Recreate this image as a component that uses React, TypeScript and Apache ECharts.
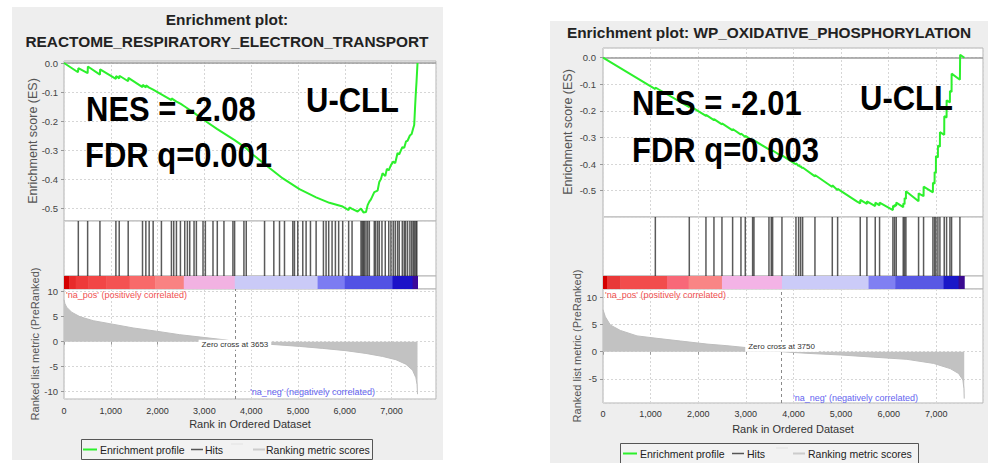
import React, { useEffect, useRef } from "react";
import * as echarts from "echarts";

// ---------- data ----------
const xMaxLeft = 7950;
const xMaxRight = 7980;
const zeroCrossLeft = 3653;
const zeroCrossRight = 3750;

const titleLeft1 = "Enrichment plot:";
const titleLeft2 = "REACTOME_RESPIRATORY_ELECTRON_TRANSPORT";
const titleRight = "Enrichment plot: WP_OXIDATIVE_PHOSPHORYLATION";
const nesLeft = "NES = -2.08";
const fdrLeft = "FDR q=0.001";
const nesRight = "NES = -2.01";
const fdrRight = "FDR q=0.003";
const groupLabel = "U-CLL";

const hitsLeft = [
  306, 505, 768, 1109, 1180, 1372, 1678, 1749, 1820, 1905, 2082, 2296, 2345, 2403, 2488, 2580,
  2637, 2687, 2779, 2829, 2971, 3021, 3184, 3276, 3418, 3610, 3646, 3845, 3895, 4286, 4484,
  4606, 4712, 4890, 4925, 4996, 5103, 5174, 5267, 5388, 5544, 5601, 5657, 5729, 5800, 5870,
  5956, 6083, 6156, 6347, 6372, 6397, 6420, 6454, 6489, 6525, 6631, 6660, 6702, 6738, 6795,
  6866, 6940, 6987, 7036, 7079, 7128, 7164, 7230, 7271, 7300, 7342, 7392, 7430, 7463, 7490,
  7520, 7540,
];

const hitsRight = [
  1099, 1812, 2162, 2330, 2498, 2722, 2897, 2988, 3142, 3170, 3485, 3534, 3562, 3758, 4052,
  4108, 4150, 4192, 4451, 4815, 4927, 5402, 5542, 5717, 5808, 6088, 6123, 6158, 6305, 6333,
  6361, 6627, 6732, 6928, 6963, 6991, 7033, 7075, 7166, 7215, 7285, 7320, 7495,
];

const esLeft = [
  [0, 0], [300, -0.032], [306, -0.018], [505, -0.035], [510, -0.012], [768, -0.04], [772, -0.022],
  [1109, -0.055], [1113, -0.045], [1180, -0.053], [1184, -0.044], [1372, -0.063], [1376, -0.051],
  [1678, -0.083], [1682, -0.075], [1749, -0.084], [1753, -0.077], [1820, -0.085], [1905, -0.092],
  [2082, -0.108], [2296, -0.128], [2300, -0.122], [2403, -0.133], [2488, -0.14], [2580, -0.15],
  [2779, -0.172], [3021, -0.2], [3276, -0.228], [3646, -0.266], [3895, -0.294], [4037, -0.316],
  [4392, -0.362], [4677, -0.398], [5032, -0.435], [5388, -0.463], [5672, -0.482], [5956, -0.495],
  [6083, -0.507], [6100, -0.498], [6156, -0.503], [6275, -0.512], [6347, -0.502], [6400, -0.515],
  [6454, -0.514], [6489, -0.49], [6525, -0.478], [6560, -0.47], [6631, -0.445], [6702, -0.44],
  [6738, -0.41], [6773, -0.4], [6808, -0.38], [6866, -0.39], [6900, -0.365], [6940, -0.37],
  [6987, -0.352], [7036, -0.34], [7079, -0.345], [7128, -0.31], [7164, -0.315], [7230, -0.29],
  [7271, -0.292], [7310, -0.27], [7342, -0.268], [7392, -0.25], [7430, -0.245], [7463, -0.225],
  [7484, -0.214], [7505, -0.145], [7520, -0.1], [7534, -0.064], [7555, 0],
];

const esRight = [
  [0, 0], [1099, -0.118], [1100, -0.112], [1812, -0.186], [1813, -0.18], [2162, -0.219],
  [2163, -0.215], [2330, -0.235], [2331, -0.231], [2498, -0.251], [2499, -0.247], [2722, -0.273],
  [2723, -0.268], [2897, -0.289], [2898, -0.285], [2988, -0.298], [2989, -0.294], [3142, -0.312],
  [3143, -0.308], [3170, -0.315], [3171, -0.311], [3485, -0.345], [3486, -0.341], [3534, -0.349],
  [3535, -0.346], [3562, -0.352], [3563, -0.349], [3758, -0.371], [3759, -0.367], [4052, -0.401],
  [4053, -0.397], [4108, -0.407], [4109, -0.403], [4150, -0.411], [4151, -0.408], [4192, -0.416],
  [4193, -0.413], [4451, -0.446], [4452, -0.441], [4815, -0.486], [4816, -0.48], [4927, -0.498],
  [4928, -0.493], [5329, -0.54], [5402, -0.548], [5403, -0.535], [5542, -0.55], [5543, -0.54],
  [5717, -0.558], [5718, -0.545], [5808, -0.555], [5809, -0.545], [6088, -0.573], [6089, -0.557],
  [6123, -0.561], [6124, -0.553], [6158, -0.557], [6159, -0.545], [6305, -0.562], [6306, -0.548],
  [6333, -0.551], [6334, -0.528], [6361, -0.531], [6362, -0.502], [6627, -0.54], [6628, -0.51],
  [6732, -0.521], [6733, -0.485], [6928, -0.506], [6929, -0.47], [6963, -0.474], [6964, -0.43],
  [6991, -0.433], [6992, -0.37], [7033, -0.375], [7034, -0.33], [7075, -0.335], [7076, -0.28],
  [7166, -0.29], [7167, -0.22], [7215, -0.225], [7216, -0.16], [7285, -0.168], [7286, -0.125],
  [7320, -0.129], [7321, -0.06], [7495, -0.083], [7500, 0.011], [7590, 0.0],
];

const metricLeft = [
  [0, 8.4], [20, 7.6], [57, 6.9], [163, 5.9], [341, 5.0], [625, 4.2], [980, 3.6], [1478, 2.75],
  [1976, 2.1], [2473, 1.4], [2971, 0.87], [3468, 0.34], [3653, 0], [4037, -0.34], [4534, -0.6],
  [5032, -0.94], [5529, -1.34], [6027, -1.8], [6453, -2.35], [6809, -2.95], [7093, -3.6],
  [7306, -4.5], [7449, -5.7], [7520, -7.2], [7545, -8.6], [7555, -10.5],
];

const metricRight = [
  [0, 7.7], [49, 6.4], [154, 4.9], [364, 3.9], [714, 2.9], [1134, 2.45], [1624, 1.96],
  [2183, 1.4], [2603, 1.1], [3023, 0.74], [3513, 0.3], [3750, 0], [4283, -0.3], [4983, -0.6],
  [5682, -1.0], [6382, -1.4], [6942, -2.15], [7292, -3.1], [7467, -4.0], [7558, -5.2],
  [7580, -6.8], [7586, -8.6],
];

const heatLeft: [number, number, string][] = [
  [0, 110, "#d40000"], [110, 250, "#e82a2a"], [250, 520, "#ee3a3a"], [520, 900, "#f24646"],
  [900, 1400, "#f45252"], [1400, 1950, "#f86a6a"], [1950, 2560, "#f98282"],
  [2560, 3650, "#f2b2e2"], [3650, 5420, "#cacaf7"], [5420, 6000, "#7c7cf2"],
  [6000, 7020, "#5252e4"], [7020, 7450, "#1c12c8"], [7450, 7555, "#3a0a9a"],
];

const heatRight: [number, number, string][] = [
  [0, 84, "#d40000"], [84, 364, "#e83838"], [364, 1344, "#f24c4c"], [1344, 1798, "#f86878"],
  [1798, 2498, "#f98585"], [2498, 3758, "#f3b3e6"], [3758, 5577, "#cbcbf8"],
  [5577, 6137, "#8080f2"], [6137, 7152, "#5858e4"], [7152, 7467, "#1a18c8"],
  [7467, 7586, "#3a0a90"],
];

// ---------- styling ----------
const FONT = "'Liberation Sans', Arial, Helvetica, sans-serif";
const GREEN = "#2cf02c";
const PANEL = "#eeeeee";

function fmtThousands(v: number) {
  return Math.round(v).toLocaleString("en-US");
}

function App() {
  const ref = useRef<HTMLDivElement>(null);

  useEffect(() => {
    if (!ref.current) return;
    const chart = echarts.init(ref.current, undefined, { renderer: "svg" });

    const gridDefs = [
      { left: 64, top: 61, width: 372, height: 160 },
      { left: 64, top: 221, width: 372, height: 55 },
      { left: 64, top: 276, width: 372, height: 13 },
      { left: 64, top: 289, width: 372, height: 110 },
      { left: 603, top: 48, width: 380, height: 169 },
      { left: 603, top: 217, width: 380, height: 59 },
      { left: 603, top: 276, width: 380, height: 13 },
      { left: 603, top: 289, width: 380, height: 114 },
    ];
    const grid = gridDefs.map((g) => ({
      ...g,
      show: true,
      backgroundColor: "#ffffff",
      borderColor: "#b4b4b4",
      borderWidth: 1,
      containLabel: false,
    }));

    const splitDotted = { type: [2, 2] as any, color: "#d6d6d6", width: 1 };

    const xAxis = gridDefs.map((_, i) => {
      const isBottom = i === 3 || i === 7;
      return {
        type: "value",
        gridIndex: i,
        min: 0,
        max: i < 4 ? xMaxLeft : xMaxRight,
        interval: 1000,
        axisLine: { show: false },
        axisTick: { show: isBottom, length: 3, lineStyle: { color: "#999" } },
        axisLabel: {
          show: isBottom,
          showMaxLabel: false,
          margin: i === 3 ? 7 : 6,
          fontSize: 9,
          fontFamily: FONT,
          color: "#333",
          formatter: (v: number) => fmtThousands(v),
        },
        splitLine: { show: i % 4 !== 2, lineStyle: splitDotted },
      };
    });

    const esFmt = (v: number) =>
      Math.abs(v * 10 - Math.round(v * 10)) < 1e-6 ? (Math.round(v * 10) / 10).toFixed(1) : "";
    const rankFmt = (v: number) =>
      Math.abs(v / 5 - Math.round(v / 5)) < 1e-6 ? String(Math.round(v)) : "";

    const yLabel = (fmt: (v: number) => string, margin: number) => ({
      showMinLabel: false,
      showMaxLabel: false,
      fontSize: 9.5,
      fontFamily: FONT,
      color: "#444",
      margin,
      formatter: fmt,
    });

    const yAxis = [
      {
        type: "value", gridIndex: 0, min: -0.5447, max: 0.0069, splitNumber: 5,
        axisLine: { show: false }, axisTick: { show: true, length: 3, lineStyle: { color: "#999" } },
        axisLabel: yLabel(esFmt, 6), splitLine: { show: true, lineStyle: splitDotted },
      },
      { type: "value", gridIndex: 1, min: 0, max: 1, show: false, splitLine: { show: false } },
      { type: "value", gridIndex: 2, min: 0, max: 1, show: false, splitLine: { show: false } },
      {
        type: "value", gridIndex: 3, min: -11.46, max: 10.54, splitNumber: 4,
        axisLine: { show: false }, axisTick: { show: true, length: 3, lineStyle: { color: "#999" } },
        axisLabel: yLabel(rankFmt, 6), splitLine: { show: true, lineStyle: splitDotted },
      },
      {
        type: "value", gridIndex: 4, min: -0.599, max: 0.0365, splitNumber: 5,
        axisLine: { show: false }, axisTick: { show: true, length: 3, lineStyle: { color: "#999" } },
        axisLabel: yLabel(esFmt, 7), splitLine: { show: true, lineStyle: splitDotted },
      },
      { type: "value", gridIndex: 5, min: 0, max: 1, show: false, splitLine: { show: false } },
      { type: "value", gridIndex: 6, min: 0, max: 1, show: false, splitLine: { show: false } },
      {
        type: "value", gridIndex: 7, min: -9.41, max: 11.5, splitNumber: 4,
        axisLine: { show: false }, axisTick: { show: true, length: 3, lineStyle: { color: "#999" } },
        axisLabel: yLabel(rankFmt, 6), splitLine: { show: true, lineStyle: splitDotted },
      },
    ];

    const esSeries = (data: number[][], idx: number) => ({
      type: "line",
      xAxisIndex: idx,
      yAxisIndex: idx,
      data,
      showSymbol: false,
      symbol: "none",
      lineStyle: { color: GREEN, width: 2 },
      z: 5,
      silent: true,
      markLine: {
        silent: true,
        symbol: ["none", "none"],
        label: { show: false },
        lineStyle: { color: "#9a9a9a", width: 1.5, type: "solid" },
        data: [{ yAxis: 0 }],
      },
    });

    const hitsSeries = (hits: number[], idx: number) => ({
      type: "custom",
      xAxisIndex: idx,
      yAxisIndex: idx,
      data: hits.map((r) => [r, 1]),
      encode: { x: 0, y: 1 },
      silent: true,
      renderItem: (_p: any, api: any) => {
        const x = api.coord([api.value(0), 0])[0];
        const yb = api.coord([0, 0])[1];
        const yt = api.coord([0, 1])[1];
        return {
          type: "line",
          shape: { x1: x, y1: yt, x2: x, y2: yb },
          style: { stroke: "#1a1a1a", lineWidth: 1.5, opacity: 0.72 },
        };
      },
    });

    const heatSeries = (segs: [number, number, string][], idx: number) => ({
      type: "custom",
      xAxisIndex: idx,
      yAxisIndex: idx,
      data: segs.map((s) => [s[0], s[1], 0.5]),
      encode: { x: [0, 1], y: 2 },
      silent: true,
      renderItem: (p: any, api: any) => {
        const a = api.coord([api.value(0), 1]);
        const b = api.coord([api.value(1), 0]);
        return {
          type: "rect",
          shape: { x: a[0], y: a[1], width: b[0] - a[0] + 0.5, height: b[1] - a[1] },
          style: { fill: segs[p.dataIndex][2] },
        };
      },
    });

    const metricSeries = (data: number[][], idx: number, zc: number, labelOffset: number) => ({
      type: "line",
      xAxisIndex: idx,
      yAxisIndex: idx,
      data,
      showSymbol: false,
      symbol: "none",
      silent: true,
      lineStyle: { color: "#bdbdbd", width: 1 },
      areaStyle: { color: "#c2c2c2", opacity: 1 },
      markLine: {
        silent: true,
        symbol: ["none", "none"],
        label: { show: false },
        lineStyle: { color: "#8a8a8a", width: 1, type: [3, 3] as any },
        data: [{ xAxis: zc }],
      },
      markPoint: {
        silent: true,
        data: [
          {
            coord: [zc, 0],
            symbol: "circle",
            symbolSize: 0,
            label: {
              show: true,
              position: "inside",
              offset: [0, labelOffset],
              formatter: "Zero cross at " + zc,
              fontSize: 8,
              fontFamily: FONT,
              color: "#333",
              backgroundColor: "#ffffff",
              padding: [1, 3],
            },
          },
        ],
      },
    });

    const series = [
      esSeries(esLeft, 0),
      hitsSeries(hitsLeft, 1),
      heatSeries(heatLeft, 2),
      metricSeries(metricLeft, 3, zeroCrossLeft, 3),
      esSeries(esRight, 4),
      hitsSeries(hitsRight, 5),
      heatSeries(heatRight, 6),
      metricSeries(metricRight, 7, zeroCrossRight, -5),
    ];

    const txt = (
      text: string, x: number, y: number, size: number,
      opts: { weight?: string; color?: string; align?: string; rot?: number; z?: number; sy?: number; sx?: number } = {}
    ) => ({
      type: "text",
      x,
      y,
      rotation: opts.rot || 0,
      scaleX: opts.sx ?? 1,
      scaleY: opts.sy ?? 1,
      z: opts.z ?? 100,
      silent: true,
      style: {
        text,
        fill: opts.color || "#222",
        fontSize: size,
        fontWeight: opts.weight || "normal",
        fontFamily: FONT,
        align: opts.align || "left",
        textAlign: opts.align || "left",
        verticalAlign: "middle",
        textVerticalAlign: "middle",
      },
    });

    const big = { weight: "bold", color: "#000", sy: 1.12 };

    const hline = (x1: number, x2: number, y: number, color: string, w: number) => ({
      type: "line",
      z: 100,
      silent: true,
      shape: { x1, y1: y, x2, y2: y },
      style: { stroke: color, lineWidth: w },
    });

    const graphic = [
      // panel backgrounds
      { type: "rect", z: -100, silent: true, shape: { x: 12, y: 7, width: 431, height: 453 }, style: { fill: PANEL } },
      { type: "rect", z: -100, silent: true, shape: { x: 550, y: 21, width: 438, height: 450 }, style: { fill: PANEL } },
      // titles
      txt(titleLeft1, 227, 19, 15.4, { weight: "bold", align: "center" }),
      txt(titleLeft2, 227, 41, 15.4, { weight: "bold", align: "center" }),
      txt(titleRight, 769, 32, 15.4, { weight: "bold", align: "center" }),
      // big annotations
      txt(nesLeft, 86, 109, 31, big),
      txt(fdrLeft, 85, 155, 31, big),
      txt(groupLabel, 306, 100, 31, big),
      txt(nesRight, 632, 103, 31, big),
      txt(fdrRight, 632, 150, 31, big),
      txt(groupLabel, 860, 98, 31, big),
      // axis names
      txt("Enrichment score (ES)", 33, 141, 12.5, { align: "center", rot: Math.PI / 2, color: "#555" }),
      txt("Ranked list metric (PreRanked)", 35, 344, 11, { align: "center", rot: Math.PI / 2, color: "#555" }),
      txt("Rank in Ordered Dataset", 250, 424, 11, { align: "center", color: "#333" }),
      txt("Enrichment score (ES)", 568, 132, 12.5, { align: "center", rot: Math.PI / 2, color: "#555" }),
      txt("Ranked list metric (PreRanked)", 577, 346, 11, { align: "center", rot: Math.PI / 2, color: "#555" }),
      txt("Rank in Ordered Dataset", 793, 429, 11, { align: "center", color: "#333" }),
      // correlation labels
      txt("'na_pos' (positively correlated)", 66, 295, 9, { color: "#f05050" }),
      txt("'na_neg' (negatively correlated)", 250, 392, 9, { color: "#6464f0" }),
      txt("'na_pos' (positively correlated)", 605, 295, 9, { color: "#f05050" }),
      txt("'na_neg' (negatively correlated)", 793, 398, 9, { color: "#6464f0" }),
      // legend left
      { type: "rect", z: 90, silent: true, shape: { x: 81.5, y: 439.5, width: 291, height: 20 }, style: { fill: "#f2f2f2", stroke: "#555", lineWidth: 1 } },
      hline(83, 97, 449.5, GREEN, 2),
      txt("Enrichment profile", 100, 449.5, 10.5),
      hline(191, 203, 449.5, "#555", 1.5),
      txt("Hits", 205, 449.5, 10.5),
      hline(231, 243, 444, "#e2e2e2", 1),
      hline(253, 265, 449.5, "#cccccc", 2),
      txt("Ranking metric scores", 266, 449.5, 10.5),
      // legend right
      { type: "rect", z: 90, silent: true, shape: { x: 620.5, y: 443.5, width: 298, height: 24 }, style: { fill: "#f2f2f2", stroke: "#555", lineWidth: 1 } },
      hline(623, 637, 453.5, GREEN, 2),
      txt("Enrichment profile", 640, 453.5, 10.5),
      hline(732, 744, 453.5, "#555", 1.5),
      txt("Hits", 747, 453.5, 10.5),
      hline(776, 788, 448, "#e2e2e2", 1),
      hline(793, 805, 453.5, "#cccccc", 2),
      txt("Ranking metric scores", 808, 453.5, 10.5),
    ];

    chart.setOption({
      animation: false,
      backgroundColor: "#ffffff",
      grid,
      xAxis,
      yAxis,
      series,
      graphic: { elements: graphic },
    } as any);

    return () => chart.dispose();
  }, []);

  return (
    <div
      ref={ref}
      style={{ position: "fixed", left: 0, top: 0, width: 994, height: 463, background: "#fff" }}
    />
  );
}

export default App;
